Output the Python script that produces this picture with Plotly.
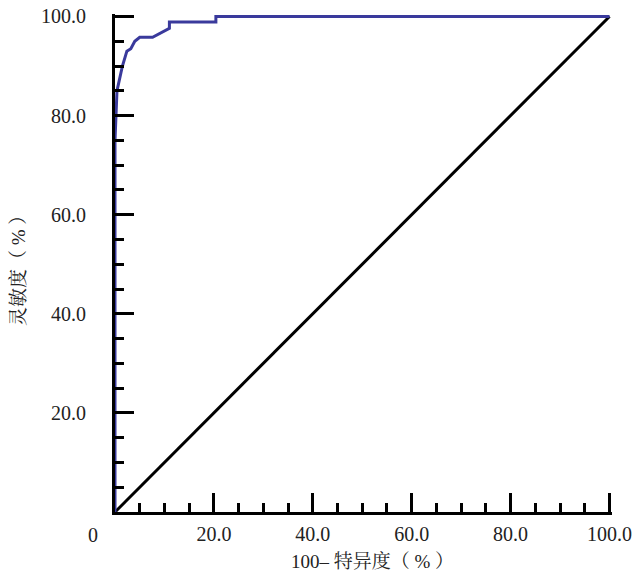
import plotly.graph_objects as go

# ROC curve data (100 - specificity %, sensitivity %)
fpr = [0, 0, 0.4, 1.0, 1.5, 2.4, 3.2, 4.0, 5.0, 7.6, 11.0, 11.0, 20.4, 20.4, 100]
tpr = [0, 75, 85, 88, 90, 93, 93.5, 95, 95.8, 95.8, 97.6, 98.9, 98.9, 100, 100]
diag_x = [0, 100]
diag_y = [0, 100]
tick_vals = [20, 40, 60, 80, 100]
tick_text = ["20.0", "40.0", "60.0", "80.0", "100.0"]

FONT = "Liberation Serif, Noto Serif CJK SC, Noto Sans CJK SC, serif"

L, R, T, B = 115, 29, 14, 60
W, H = 641, 572
pw = W - L - R
ph = H - T - B

def px2paper(px, py):
    return (px - L) / pw, (H - B - py) / ph

fig = go.Figure()
fig.add_trace(go.Scatter(x=diag_x, y=diag_y, mode="lines",
                         line=dict(color="black", width=3), showlegend=False))
fig.add_trace(go.Scatter(x=fpr, y=tpr, mode="lines",
                         line=dict(color="#3a3a9c", width=3), showlegend=False))

axis_common = dict(
    showgrid=False, zeroline=False, showline=True, linecolor="black", linewidth=3,
    ticks="inside", ticklen=19, tickwidth=3, tickcolor="black",
    tickvals=tick_vals, ticktext=tick_text, automargin=False,
    minor=dict(dtick=5, tick0=0, ticks="inside", ticklen=9, tickwidth=3, tickcolor="black"),
    tickfont=dict(family=FONT, size=20, color="#222"),
)

anns = []
for txt, px, py, ang, size in [("0", 93, 535, 0, 20),
                               ("100– 特异度（ % ）", 372, 561, 0, 19),
                               ("灵敏度（ % ）", 18, 266, -90, 19)]:
    x, y = px2paper(px, py)
    anns.append(dict(text=txt, x=x, y=y, xref="paper", yref="paper",
                     xanchor="center", yanchor="middle", showarrow=False,
                     textangle=ang, font=dict(family=FONT, size=size, color="#222")))

fig.update_layout(
    width=W, height=H,
    margin=dict(l=L, r=R, t=T, b=B, autoexpand=False),
    paper_bgcolor="white", plot_bgcolor="white",
    xaxis=dict(range=[0, 100.5], ticklabelstandoff=2, **axis_common),
    yaxis=dict(range=[0, 100.5], ticklabelstandoff=22, **axis_common),
    annotations=anns,
)

fig.write_html("out.html")
